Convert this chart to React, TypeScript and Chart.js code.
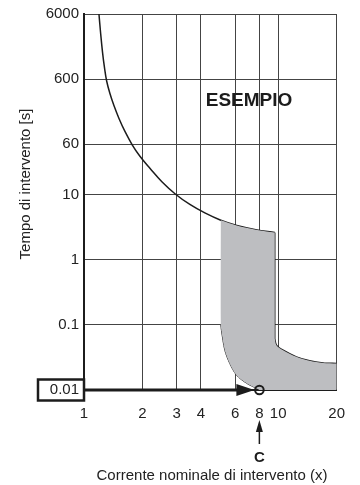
import React, { useEffect, useRef } from 'react';
import { Chart, registerables } from 'chart.js';

Chart.register(...registerables);

const xTicks = [1, 2, 3, 4, 6, 8, 10, 20];
const yTicks = [0.01, 0.1, 1, 10, 60, 600, 6000];

// upper trip curve (thermal part)
const upperX = [1.194, 1.216, 1.245, 1.275, 1.308, 1.36, 1.426, 1.514, 1.625, 1.771, 1.941, 2.185, 2.518, 2.962, 3.509, 4.191, 5.064, 6.121, 7.664, 9.6];
const upperY = [6000, 3200, 1575, 897, 561, 359, 235, 149, 94, 58.6, 39.1, 25.6, 15.9, 10.2, 7.1, 5.26, 4.06, 3.37, 2.91, 2.63];
// right side: vertical drop and lower curve
const lowerX = [9.6, 9.6, 9.79, 10.6, 12.4, 14.5, 17.0, 20];
const lowerY = [2.63, 0.0616, 0.0488, 0.0408, 0.0323, 0.0281, 0.0261, 0.0256];
// left boundary of the band
const leftX = [5.064, 5.064, 5.1, 5.31, 5.63, 6.1, 6.87, 7.73, 8];
const leftY = [4.06, 0.1, 0.0826, 0.0408, 0.0256, 0.0169, 0.0127, 0.0106, 0.01];

const markX = 8;
const markY = 0.01;
const xMax = 20;
const yMin = 0.01;

const FONT = "'Liberation Sans', Arial, Helvetica, sans-serif";
const INK = '#1c1c1c';

type P = { x: number; y: number };
const pts = (xs: number[], ys: number[]): P[] => xs.map((x, i) => ({ x, y: ys[i] }));

export default function App() {
  const ref = useRef<HTMLCanvasElement | null>(null);

  useEffect(() => {
    if (!ref.current) return;

    const bandStartIdx = upperX.indexOf(leftX[0]);
    const up = pts(upperX, upperY).slice(bandStartIdx);
    const low = pts(lowerX, lowerY).slice(1);
    const lf = pts(leftX, leftY).reverse();
    // corner points are repeated so the spline keeps sharp corners
    const band: P[] = [
      up[0],
      ...up,
      up[up.length - 1],
      low[0],
      low[0],
      ...low.slice(1),
      low[low.length - 1],
      { x: xMax, y: yMin },
      { x: xMax, y: yMin },
      lf[0],
      ...lf,
      lf[lf.length - 1],
    ];
    const leftLine = pts(leftX, leftY).slice(1);
    const rightLine = pts(lowerX, lowerY);
    const rightLineSharp = [rightLine[0], rightLine[1], ...rightLine.slice(1)];

    const extras = {
      id: 'extras',
      afterDraw(chart: any) {
        const { ctx, chartArea } = chart;
        const xs = chart.scales.x;
        const ys = chart.scales.y;
        const px = xs.getPixelForValue(markX);
        const py = ys.getPixelForValue(markY);
        const left = chartArea.left;
        ctx.save();
        ctx.strokeStyle = INK;
        ctx.fillStyle = INK;
        // box around 0.01
        ctx.lineWidth = 2.5;
        ctx.strokeRect(38, py - 10.5, left - 38, 21);
        // horizontal arrow
        ctx.lineWidth = 3;
        ctx.beginPath();
        ctx.moveTo(left, py);
        ctx.lineTo(px - 20, py);
        ctx.stroke();
        ctx.beginPath();
        ctx.moveTo(px - 5, py);
        ctx.lineTo(px - 23, py - 6);
        ctx.lineTo(px - 23, py + 6);
        ctx.closePath();
        ctx.fill();
        // circle marker
        ctx.lineWidth = 2;
        ctx.beginPath();
        ctx.arc(px, py, 4.3, 0, Math.PI * 2);
        ctx.stroke();
        // up arrow under 8
        ctx.lineWidth = 1.5;
        ctx.beginPath();
        ctx.moveTo(px, 444);
        ctx.lineTo(px, 428);
        ctx.stroke();
        ctx.beginPath();
        ctx.moveTo(px, 420);
        ctx.lineTo(px - 3.5, 432);
        ctx.lineTo(px + 3.5, 432);
        ctx.closePath();
        ctx.fill();
        // C
        ctx.font = `bold 15px ${FONT}`;
        ctx.textAlign = 'center';
        ctx.textBaseline = 'middle';
        ctx.fillText('C', px, 458);
        // ESEMPIO
        ctx.font = `bold 19px ${FONT}`;
        ctx.fillText('ESEMPIO', 249, 101);
        // axis titles
        ctx.font = `15px ${FONT}`;
        ctx.fillStyle = '#222';
        ctx.fillText('Corrente nominale di intervento (x)', 212, 476);
        ctx.translate(26, 184);
        ctx.rotate(-Math.PI / 2);
        ctx.fillText('Tempo di intervento [s]', 0, 0);
        ctx.restore();
      },
    };

    const chart = new Chart(ref.current, {
      type: 'scatter',
      data: {
        datasets: [
          {
            data: band,
            showLine: true,
            fill: 'shape',
            backgroundColor: '#bdbec1',
            borderWidth: 0,
            borderColor: 'rgba(0,0,0,0)',
            pointRadius: 0,
            tension: 0.3,
          },
          {
            data: pts(upperX, upperY),
            showLine: true,
            fill: false,
            borderColor: INK,
            borderWidth: 1.5,
            pointRadius: 0,
            tension: 0.4,
          },
          {
            data: rightLineSharp,
            showLine: true,
            fill: false,
            borderColor: INK,
            borderWidth: 1.5,
            pointRadius: 0,
            tension: 0.3,
          },
          {
            data: leftLine,
            showLine: true,
            fill: false,
            borderColor: INK,
            borderWidth: 1,
            pointRadius: 0,
            tension: 0.3,
          },
        ],
      },
      options: {
        animation: false,
        responsive: false,
        devicePixelRatio: 1,
        layout: { padding: { top: 12, right: 23, left: 0, bottom: 0 } },
        plugins: { legend: { display: false }, tooltip: { enabled: false } },
        scales: {
          x: {
            type: 'logarithmic',
            min: 1,
            max: xMax,
            z: 1,
            afterBuildTicks: (s: any) => {
              s.ticks = xTicks.map((v) => ({ value: v }));
            },
            afterFit: (s: any) => {
              s.height = 95;
            },
            grid: { color: '#444', lineWidth: 1, drawTicks: false },
            border: { color: INK, width: 2 },
            ticks: {
              autoSkip: false,
              maxRotation: 0,
              padding: 15,
              color: '#222',
              font: { family: FONT, size: 15 },
              callback: (v: any) => String(v),
            },
          },
          y: {
            type: 'logarithmic',
            min: yMin,
            max: 6000,
            z: 1,
            afterBuildTicks: (s: any) => {
              s.ticks = yTicks.map((v) => ({ value: v }));
            },
            afterFit: (s: any) => {
              s.width = 84;
            },
            grid: { color: '#444', lineWidth: 1, drawTicks: false },
            border: { color: INK, width: 2 },
            ticks: {
              autoSkip: false,
              padding: 5,
              color: '#222',
              font: { family: FONT, size: 15 },
              callback: (v: any) => String(v),
            },
          },
        },
      },
      plugins: [extras],
    } as any);

    return () => chart.destroy();
  }, []);

  return (
    <div style={{ position: 'fixed', left: 0, top: 0, width: 360, height: 485, background: '#fff' }}>
      <canvas ref={ref} width={360} height={485} style={{ width: 360, height: 485, display: 'block' }} />
    </div>
  );
}
